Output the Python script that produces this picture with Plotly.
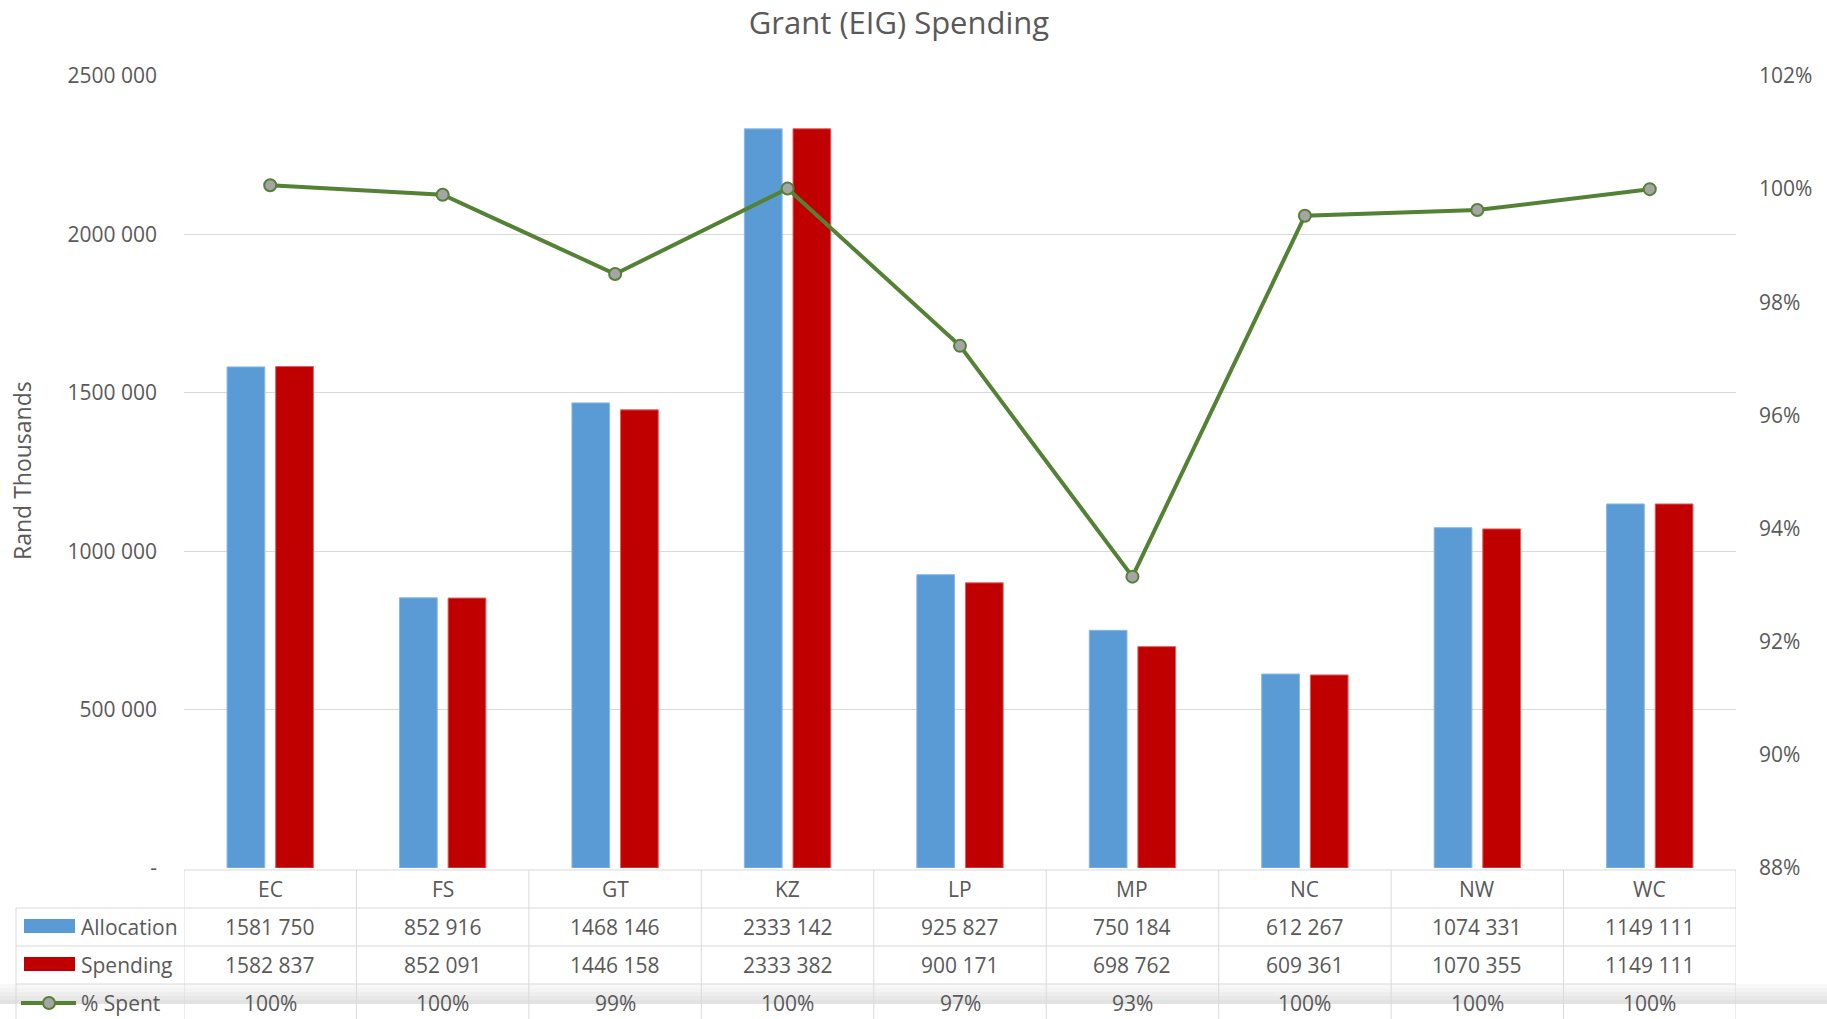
import plotly.graph_objects as go

# ---------------- data ----------------
categories = ["EC", "FS", "GT", "KZ", "LP", "MP", "NC", "NW", "WC"]
allocation = [1581750, 852916, 1468146, 2333142, 925827, 750184, 612267, 1074331, 1149111]
spending = [1582837, 852091, 1446158, 2333382, 900171, 698762, 609361, 1070355, 1149111]
pct_spent = [1.0007, 0.9990, 0.9850, 1.0001, 0.9723, 0.9315, 0.9953, 0.9963, 1.0000]
pct_labels = ["100%", "100%", "99%", "100%", "97%", "93%", "100%", "100%", "100%"]
left_tick_vals = [0, 500000, 1000000, 1500000, 2000000, 2500000]
left_tick_text = ["-", "500 000", "1000 000", "1500 000", "2000 000", "2500 000"]
right_tick_vals = [0.88, 0.90, 0.92, 0.94, 0.96, 0.98, 1.00, 1.02]
right_tick_text = ["88%", "90%", "92%", "94%", "96%", "98%", "100%", "102%"]
series_names = ["Allocation", "Spending", "% Spent"]


def fmt(v):
    return f"{v // 1000} {v % 1000:03d}" if v >= 1000 else str(v)


# ---------------- layout geometry (pixels) ----------------
FW, FH = 1827, 1019
L, R, T, B = 184, 1736, 76, 868
W, H = R - L, B - T


def px(x):
    return (x - L) / W


def py(y):
    return (B - y) / H


BLUE = "#5B9BD5"
RED = "#C00000"
GREEN = "#548235"
TXT = "#595959"
GRID = "#D9D9D9"
FONT = "Open Sans"

fig = go.Figure()
fig.add_trace(go.Bar(x=categories, y=allocation, name=series_names[0],
                     marker=dict(color=BLUE, line=dict(color="#8AB8E6", width=1))))
fig.add_trace(go.Bar(x=categories, y=spending, name=series_names[1],
                     marker=dict(color=RED, line=dict(color="#E06060", width=1))))
fig.add_trace(go.Scatter(x=categories, y=pct_spent, name=series_names[2], yaxis="y2",
                         mode="lines+markers",
                         line=dict(color=GREEN, width=4),
                         marker=dict(symbol="circle", size=12, color="#A5A5A5",
                                     line=dict(color=GREEN, width=2))))

shapes = []
# screenshot shading band near the bottom
band_cols = ["#F8F8F8", "#F3F3F3", "#EEEEEE", "#E8E8E8", "#E2E2E2"]
for i, c in enumerate(band_cols):
    y0 = 984 + i * 4
    shapes.append(dict(type="rect", xref="paper", yref="paper", x0=px(0), x1=px(FW),
                       y0=py(y0 + 4), y1=py(y0), fillcolor=c, line=dict(width=0), layer="below"))

lc = dict(color=GRID, width=1)
# table top line
shapes.append(dict(type="line", xref="paper", yref="paper", x0=0, x1=1, y0=py(870), y1=py(870), line=lc))
# row lines
for yy in [908, 946, 984]:
    shapes.append(dict(type="line", xref="paper", yref="paper", x0=px(16), x1=1, y0=py(yy), y1=py(yy), line=lc))
# vertical column lines
for k in range(len(categories) + 1):
    shapes.append(dict(type="line", xref="x", yref="paper", x0=k - 0.5, x1=k - 0.5,
                       y0=py(870), y1=py(FH), line=lc))
# legend column left border
shapes.append(dict(type="line", xref="paper", yref="paper", x0=px(16), x1=px(16),
                   y0=py(908), y1=py(FH), line=lc))
# legend keys
shapes.append(dict(type="rect", xref="paper", yref="paper", x0=px(24), x1=px(75),
                   y0=py(933), y1=py(919), fillcolor=BLUE, line=dict(width=0)))
shapes.append(dict(type="rect", xref="paper", yref="paper", x0=px(24), x1=px(75),
                   y0=py(971), y1=py(957), fillcolor=RED, line=dict(width=0)))
shapes.append(dict(type="line", xref="paper", yref="paper", x0=px(21), x1=px(76),
                   y0=py(1003), y1=py(1003), line=dict(color=GREEN, width=4)))
shapes.append(dict(type="circle", xref="paper", yref="paper", x0=px(43), x1=px(55),
                   y0=py(1009), y1=py(997), fillcolor="#A5A5A5", line=dict(color=GREEN, width=2)))

ann = []
tf = dict(family=FONT, size=21, color=TXT)
row_y = {"cat": 889, "alloc": 927, "spend": 965, "pct": 1003}
for i, c in enumerate(categories):
    ann.append(dict(x=c, xref="x", y=py(row_y["cat"]), yref="paper", text=c,
                    showarrow=False, font=tf, xanchor="center", yanchor="middle"))
    ann.append(dict(x=c, xref="x", y=py(row_y["alloc"]), yref="paper", text=fmt(allocation[i]),
                    showarrow=False, font=tf, xanchor="center", yanchor="middle"))
    ann.append(dict(x=c, xref="x", y=py(row_y["spend"]), yref="paper", text=fmt(spending[i]),
                    showarrow=False, font=tf, xanchor="center", yanchor="middle"))
    ann.append(dict(x=c, xref="x", y=py(row_y["pct"]), yref="paper", text=pct_labels[i],
                    showarrow=False, font=tf, xanchor="center", yanchor="middle"))
for name, key in zip(series_names, ["alloc", "spend", "pct"]):
    ann.append(dict(x=px(79), xref="paper", y=py(row_y[key]), yref="paper", text=name,
                    showarrow=False, font=tf, xanchor="left", yanchor="middle"))
# y-axis title
ann.append(dict(x=px(22), xref="paper", y=py(471), yref="paper", text="Rand Thousands",
                textangle=-90, showarrow=False, font=dict(family=FONT, size=23, color=TXT),
                xanchor="center", yanchor="middle"))

fig.update_layout(
    width=FW, height=FH,
    margin=dict(l=L, r=FW - R, t=T, b=FH - B, pad=0),
    paper_bgcolor="white", plot_bgcolor="white",
    showlegend=False,
    barmode="group", bargap=0.436, bargroupgap=0.224,
    title=dict(text="Grant (EIG) Spending", x=px(899), xref="paper", xanchor="center",
               y=1 - 23 / FH, yref="container", yanchor="middle",
               font=dict(family=FONT, size=31, color=TXT)),
    xaxis=dict(range=[-0.5, 8.5], showticklabels=False, showgrid=False, zeroline=False,
               showline=False, ticks=""),
    yaxis=dict(range=[0, 2500000], tickvals=left_tick_vals, ticktext=left_tick_text,
               showgrid=True, gridcolor=GRID, gridwidth=1, zeroline=False, showline=False,
               ticks="", ticklabelstandoff=26, tickfont=dict(family=FONT, size=21, color=TXT)),
    yaxis2=dict(range=[0.88, 1.02], overlaying="y", side="right", tickvals=right_tick_vals,
                ticktext=right_tick_text, showgrid=False, zeroline=False, showline=False,
                ticks="", ticklabelstandoff=22, tickfont=dict(family=FONT, size=21, color=TXT)),
    shapes=shapes, annotations=ann,
)

fig.write_html("out.html", config={"displayModeBar": False},
               post_script="document.body.style.margin='0';document.body.style.overflow='hidden';")
